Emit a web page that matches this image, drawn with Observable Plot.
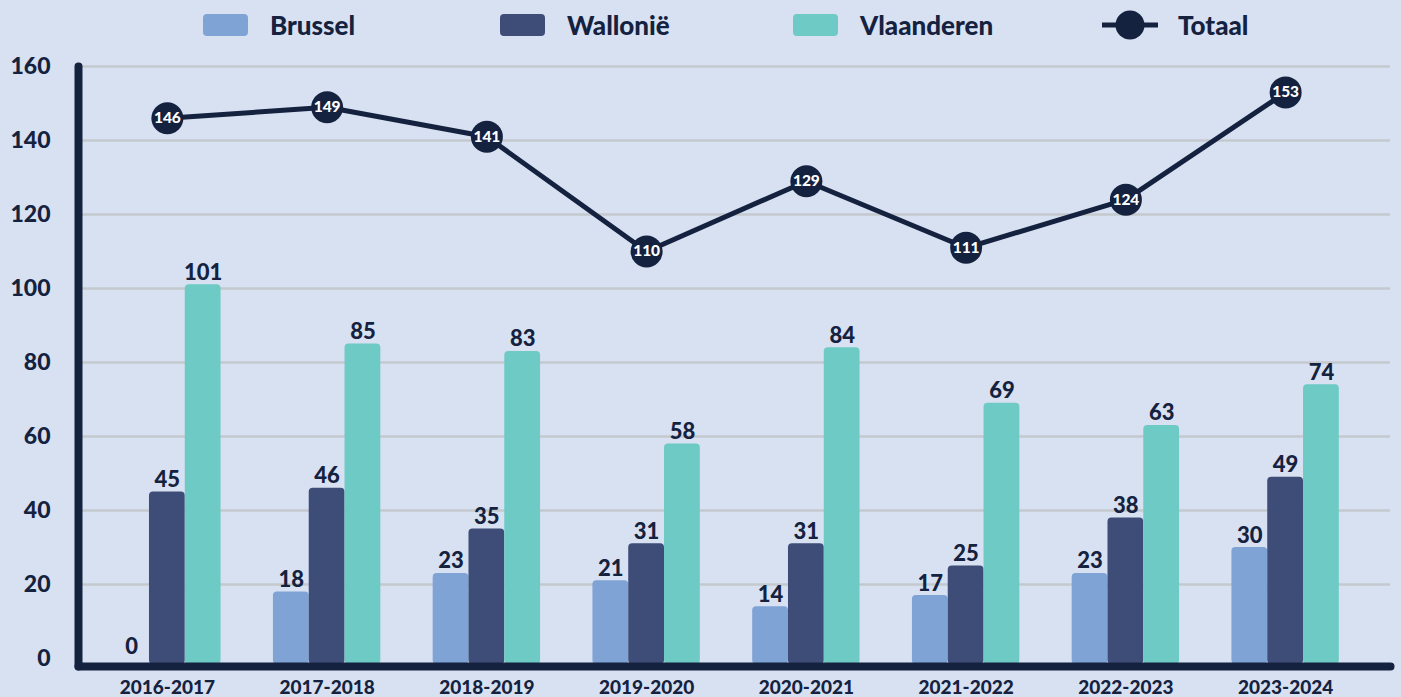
<!DOCTYPE html>
<html><head><meta charset="utf-8">
<script src="https://cdn.jsdelivr.net/npm/d3@7"></script>
<script src="https://cdn.jsdelivr.net/npm/@observablehq/plot@0.6"></script>
<style>
html,body{margin:0;padding:0;background:#d7e1f1;overflow:hidden;}
body{width:1401px;height:697px;font-family:Lato,"Noto Sans",sans-serif;color:#15223f;}
#legend{position:relative;height:50px;}
.item{position:absolute;top:0;height:50px;display:flex;align-items:center;font-weight:900;font-size:26px;}
.sw{width:45px;height:22px;border-radius:4px;margin-right:22px;}
.item svg{margin-right:20px;}
#chart svg{display:block;}
</style></head><body>
<div id="legend"></div>
<div id="chart"></div>
<script>
const years = ["2016-2017","2017-2018","2018-2019","2019-2020","2020-2021","2021-2022","2022-2023","2023-2024"];
const brussel = [0,18,23,21,14,17,23,30];
const wallonie = [45,46,35,31,31,25,38,49];
const vlaanderen = [101,85,83,58,84,69,63,74];
const totaal = [146,149,141,110,129,111,124,153];
const yTicks = [0,20,40,60,80,100,120,140,160];
const regions = ["Brussel","Wallonië","Vlaanderen"];
const regionColors = ["#7fa3d5","#3d4d78","#6ecac5"];
const totalName = "Totaal";
const dark = "#15223f";
const legendLeft = [203,500,793,1102];

// legend
const legend = document.getElementById("legend");
regions.forEach((r,i)=>{
  const d = document.createElement("div");
  d.className="item"; d.style.left = legendLeft[i]+"px";
  d.innerHTML = `<span class="sw" style="background:${regionColors[i]}"></span><span>${r}</span>`;
  legend.appendChild(d);
});
{
  const d = document.createElement("div");
  d.className="item"; d.style.left = legendLeft[3]+"px";
  d.innerHTML = `<svg width="56" height="30"><line x1="0" y1="15" x2="56" y2="15" stroke="${dark}" stroke-width="5"/><circle cx="28" cy="15" r="14.5" fill="${dark}"/></svg><span>${totalName}</span>`;
  legend.appendChild(d);
}

const series = [brussel, wallonie, vlaanderen];
const bw = 35.8;
const offsets = [-bw, 0, bw];
const barData = regions.map((r,k)=>years.map((y,i)=>({year:y, region:r, value:series[k][i]})));
const tot = years.map((y,i)=>({year:y, value:totaal[i]}));

const marks = [
  Plot.ruleY(yTicks.filter(d=>d>0), {stroke:"#c5c8cc", strokeWidth:2.5})
];
barData.forEach((data,k)=>{
  marks.push(Plot.barY(data.filter(d=>d.value>0), {x:"year", y:"value", fill:regionColors[k], dx:offsets[k], insetBottom:-6, rx:4}));
  marks.push(Plot.text(data, {x:"year", y:"value", text:d=>String(d.value), dx:offsets[k], dy:-5, lineAnchor:"bottom", fontSize:22, fontWeight:900, fill:dark}));
});
marks.push(
  Plot.frame({anchor:"left", stroke:dark, strokeWidth:8, strokeLinecap:"round"}),
  Plot.frame({anchor:"bottom", stroke:dark, strokeWidth:8, strokeLinecap:"round"}),
  Plot.axisY(yTicks, {tickSize:0, tickPadding:28, fontSize:23, fontWeight:900, fill:dark, textAnchor:"end"}),
  Plot.axisX({tickSize:0, tickPadding:14, fontSize:19, fontWeight:900, fill:dark}),
  Plot.line(tot, {x:"year", y:"value", stroke:dark, strokeWidth:5}),
  Plot.dot(tot, {x:"year", y:"value", r:16, fill:dark}),
  Plot.text(tot, {x:"year", y:"value", text:d=>String(d.value), fill:"white", fontSize:15.5, fontWeight:900})
);

const chart = Plot.plot({
  width:1401, height:647,
  marginTop:16, marginLeft:78, marginRight:11, marginBottom:31,
  style:{background:"transparent", fontFamily:"Lato, sans-serif", color:dark, overflow:"visible"},
  x:{domain:years, range:[87,1365], paddingInner:0.776, paddingOuter:0.388, round:false, axis:null, label:null},
  y:{domain:[0,160], range:[608,16], axis:null, label:null},
  marks
});
document.getElementById("chart").appendChild(chart);
</script>
</body></html>
